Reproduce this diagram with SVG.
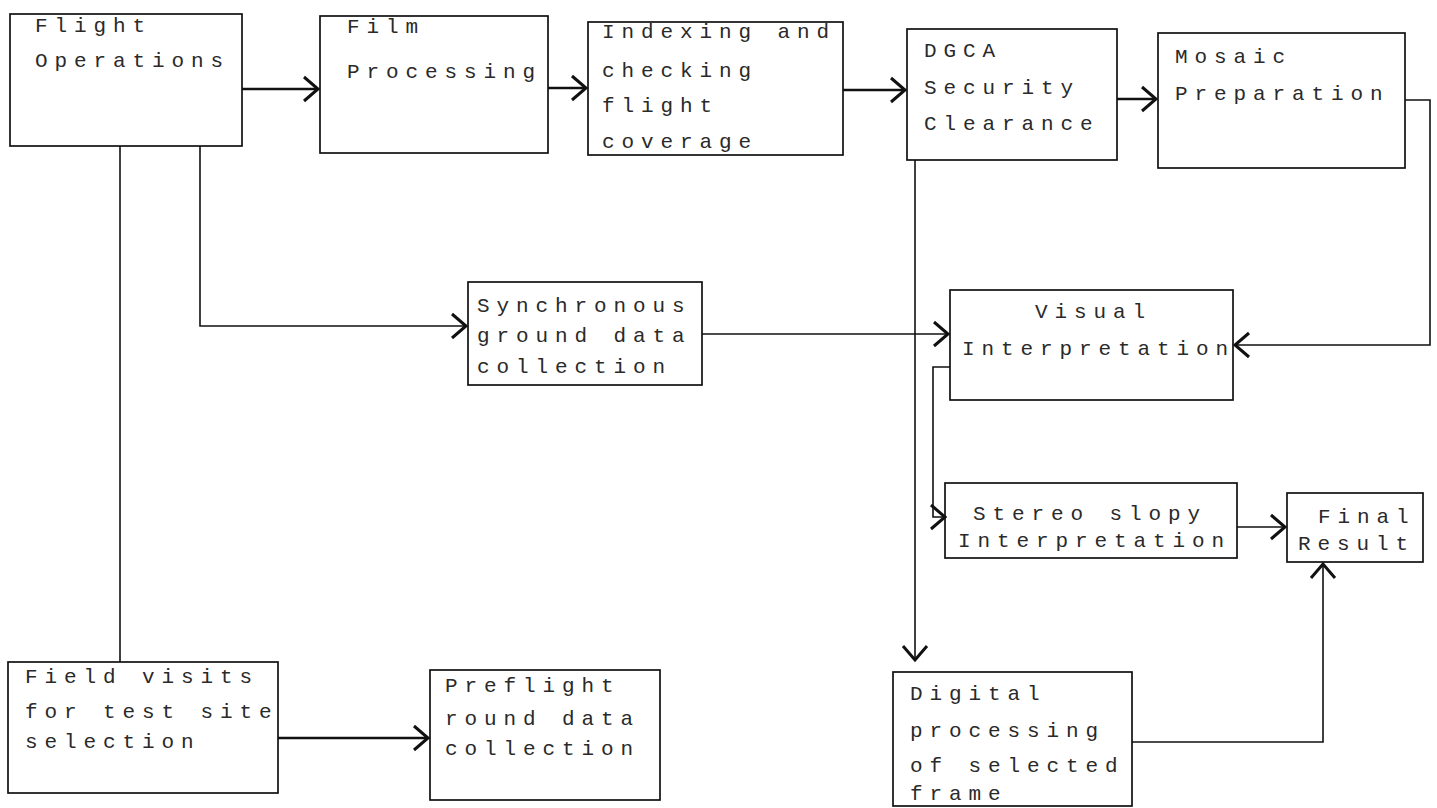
<svg xmlns="http://www.w3.org/2000/svg" width="1437" height="808" viewBox="0 0 1437 808">
<style>
.box{fill:none;stroke:#111;stroke-width:1.7}
.t{font-family:"Liberation Mono","DejaVu Sans Mono",monospace;font-size:21px;letter-spacing:6.9px;fill:#2a2a2a}
.c{fill:none;stroke:#111;stroke-width:1.6}
.k{stroke-width:2.6}
</style>
<defs>
<marker id="ah" markerWidth="20" markerHeight="28" refX="16" refY="14" orient="auto" markerUnits="userSpaceOnUse">
<path d="M2,2 L16,14 L2,26" fill="none" stroke="#111" stroke-width="3"/>
</marker>
</defs>
<rect width="1437" height="808" fill="#fff"/>
<g id="connectors">
<path class="c k" d="M242,89 H318" marker-end="url(#ah)"/>
<path class="c k" d="M548,88 H586" marker-end="url(#ah)"/>
<path class="c k" d="M843,90 H905" marker-end="url(#ah)"/>
<path class="c k" d="M1117,99 H1156" marker-end="url(#ah)"/>
<path class="c" d="M1405,100 H1430 V345 H1235" marker-end="url(#ah)"/>
<path class="c" d="M915,160 V660" marker-end="url(#ah)"/>
<path class="c" d="M200,146 V326 H466" marker-end="url(#ah)"/>
<path class="c" d="M120,146 V662"/>
<path class="c" d="M702,334 H948" marker-end="url(#ah)"/>
<path class="c" d="M950,367 H933 V517 H945" marker-end="url(#ah)"/>
<path class="c" d="M1237,527 H1285" marker-end="url(#ah)"/>
<path class="c" d="M1132,742 H1323 V564" marker-end="url(#ah)"/>
<path class="c k" d="M278,738 H428" marker-end="url(#ah)"/>
</g>
<g id="flight-operations">
<rect class="box" x="10" y="14" width="232" height="132"/>
<text class="t" x="35" y="32">Flight</text>
<text class="t" x="35" y="67">Operations</text>
</g>
<g id="film-processing">
<rect class="box" x="320" y="16" width="228" height="137"/>
<text class="t" x="347" y="33">Film</text>
<text class="t" x="347" y="78">Processing</text>
</g>
<g id="indexing">
<rect class="box" x="588" y="22" width="255" height="133"/>
<text class="t" x="602" y="38">Indexing and</text>
<text class="t" x="602" y="77">checking</text>
<text class="t" x="602" y="112">flight</text>
<text class="t" x="602" y="148">coverage</text>
</g>
<g id="dgca">
<rect class="box" x="907" y="29" width="210" height="131"/>
<text class="t" x="924" y="57">DGCA</text>
<text class="t" x="924" y="94">Security</text>
<text class="t" x="924" y="130">Clearance</text>
</g>
<g id="mosaic">
<rect class="box" x="1158" y="33" width="247" height="135"/>
<text class="t" x="1175" y="63">Mosaic</text>
<text class="t" x="1175" y="100">Preparation</text>
</g>
<g id="synchronous">
<rect class="box" x="468" y="282" width="234" height="103"/>
<text class="t" x="477" y="312">Synchronous</text>
<text class="t" x="477" y="342">ground data</text>
<text class="t" x="477" y="373">collection</text>
</g>
<g id="visual">
<rect class="box" x="950" y="290" width="283" height="110"/>
<text class="t" x="1035" y="318">Visual</text>
<text class="t" x="962" y="355">Interpretation</text>
</g>
<g id="stereo">
<rect class="box" x="945" y="483" width="292" height="75"/>
<text class="t" x="973" y="520">Stereo slopy</text>
<text class="t" x="958" y="547">Interpretation</text>
</g>
<g id="final">
<rect class="box" x="1287" y="493" width="136" height="69"/>
<text class="t" x="1318" y="523">Final</text>
<text class="t" x="1298" y="550">Result</text>
</g>
<g id="digital">
<rect class="box" x="893" y="672" width="239" height="134"/>
<text class="t" x="910" y="700">Digital</text>
<text class="t" x="910" y="737">processing</text>
<text class="t" x="910" y="772">of selected</text>
<text class="t" x="910" y="800">frame</text>
</g>
<g id="field-visits">
<rect class="box" x="8" y="662" width="270" height="131"/>
<text class="t" x="25" y="683">Field visits</text>
<text class="t" x="25" y="718">for test site</text>
<text class="t" x="25" y="748">selection</text>
</g>
<g id="preflight">
<rect class="box" x="430" y="670" width="230" height="130"/>
<text class="t" x="445" y="692">Preflight</text>
<text class="t" x="445" y="725">round data</text>
<text class="t" x="445" y="755">collection</text>
</g>
</svg>
